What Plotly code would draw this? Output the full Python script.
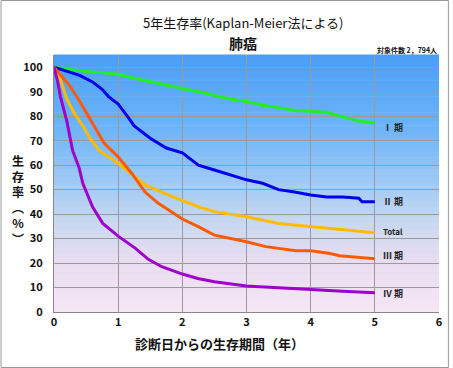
import plotly.graph_objects as go

# ---- data ----
years_I = [0, 0.25, 0.5, 0.75, 1.0, 1.25, 1.5, 1.75, 2.0, 2.25, 2.5, 2.75, 3.0, 3.25, 3.5, 3.75, 4.0, 4.25, 4.5, 4.75, 5.0]
surv_I = [100, 99, 98.3, 97.8, 97.1, 95.5, 94, 92.7, 91.3, 90, 88.5, 87, 86, 84.5, 83.5, 82.3, 82, 81.6, 79.7, 78, 77.3]

years_II = [0, 0.25, 0.4, 0.6, 0.75, 0.85, 1.0, 1.17, 1.25, 1.5, 1.75, 2.0, 2.25, 2.5, 2.75, 3.0, 3.25, 3.5, 3.75, 4.0, 4.25, 4.5, 4.75, 4.8, 5.0]
surv_II = [100, 98, 96.7, 94, 91, 88, 85, 79, 76, 71, 67, 65, 60, 58, 56, 54, 52.6, 50, 49, 47.8, 47, 47, 46.5, 45, 45]

years_T = [0, 0.1, 0.2, 0.32, 0.45, 0.55, 0.7, 1.0, 1.22, 1.43, 1.73, 2.0, 2.25, 2.5, 3.0, 3.5, 3.78, 4.0, 4.5, 5.0]
surv_T = [100, 95, 87, 81, 76, 71.5, 66, 60.8, 56, 51.8, 48.4, 45.5, 43, 41, 38.9, 36.2, 35.5, 35, 33.5, 32.4]

years_III = [0, 0.1, 0.24, 0.39, 0.6, 0.78, 1.0, 1.21, 1.42, 1.62, 2.0, 2.24, 2.5, 3.0, 3.3, 3.77, 4.0, 4.28, 4.45, 5.0]
surv_III = [100, 97, 92.6, 86.5, 77, 69, 63.4, 56.7, 49, 44.5, 38, 35, 31.4, 28.7, 26.7, 25, 25, 24, 23, 21.8]

years_IV = [0, 0.05, 0.1, 0.2, 0.29, 0.39, 0.45, 0.6, 0.76, 1.0, 1.27, 1.47, 1.68, 2.0, 2.24, 2.5, 3.0, 3.53, 3.77, 4.0, 4.5, 5.0]
surv_IV = [100, 95, 88, 78, 66, 59, 52.5, 43, 36.2, 31, 26, 21.5, 18.5, 15.5, 13.7, 12.4, 10.6, 9.7, 9.3, 9.2, 8.5, 7.9]

series_names = ["Ⅰ 期", "Ⅱ 期", "Total", "Ⅲ 期", "Ⅳ 期"]
series_x = [years_I, years_II, years_T, years_III, years_IV]
series_y = [surv_I, surv_II, surv_T, surv_III, surv_IV]
series_colors = ["#22ee22", "#0000ee", "#ffbb00", "#ff5a00", "#a000cc"]
label_y = [75.5, 45, 33, 23, 7.5]

x_ticks = [0, 1, 2, 3, 4, 5, 6]
y_ticks = [0, 10, 20, 30, 40, 50, 60, 70, 80, 90, 100]

y_title_chars = ["生", "存", "率", "︵", "%", "︶"]

FONT = "Noto Sans CJK JP"

fig = go.Figure()

# ---- gradient background for the plot area ----
stops = [(0.0, (245, 230, 245)), (0.2, (232, 220, 240)), (0.35, (200, 216, 240)),
         (0.5, (160, 202, 245)), (0.7, (112, 181, 248)), (1.0, (74, 158, 245))]


def col_at(f):
    for (f0, c0), (f1, c1) in zip(stops[:-1], stops[1:]):
        if f0 <= f <= f1:
            t = (f - f0) / (f1 - f0)
            return "rgb(%d,%d,%d)" % tuple(round(a + (b - a) * t) for a, b in zip(c0, c1))
    return "rgb(%d,%d,%d)" % stops[-1][1]


N = 80
shapes = []
for i in range(N):
    y0 = i / N
    y1 = (i + 1) / N
    shapes.append(dict(type="rect", xref="x domain", yref="y domain", x0=0, x1=1, y0=y0, y1=y1 + 0.002,
                       fillcolor=col_at((y0 + y1) / 2), line=dict(width=0), layer="below"))

for name, xs, ys, c, ly in zip(series_names, series_x, series_y, series_colors, label_y):
    fig.add_trace(go.Scatter(x=xs, y=ys, mode="lines", name=name, hoverinfo="skip",
                             line=dict(color=c, width=3), showlegend=False))
    fig.add_annotation(x=5.1, y=ly, text="<b>%s</b>" % name, showarrow=False, xanchor="left",
                       yanchor="middle", font=dict(family=FONT, size=8 if name == "Total" else 9, color="#222"))

# titles
fig.add_annotation(xref="paper", yref="paper", x=0.49, y=1.0, yshift=33, text="5年生存率(Kaplan-Meier法による)",
                   showarrow=False, xanchor="center", yanchor="middle", font=dict(family=FONT, size=13, color="#111"))
fig.add_annotation(xref="paper", yref="paper", x=0.49, y=1.0, yshift=12, text="<b>肺癌</b>",
                   showarrow=False, xanchor="center", yanchor="middle", font=dict(family=FONT, size=14, color="#111"))
fig.add_annotation(xref="paper", yref="paper", x=1.0, y=1.0, yshift=5, text="<b>対象件数 2，794人</b>",
                   showarrow=False, xanchor="right", yanchor="middle", font=dict(family=FONT, size=7, color="#111"))
# x axis title
fig.add_annotation(xref="paper", yref="paper", x=0.43, y=0, yshift=-31, text="<b>診断日からの生存期間（年）</b>",
                   showarrow=False, xanchor="center", yanchor="middle", font=dict(family=FONT, size=13, color="#111"))
# y axis title (vertical stacked characters)
fig.add_annotation(xref="paper", yref="paper", x=0, xshift=-36, y=1.0, yshift=-144,
                   text="<b>" + "<br>".join(y_title_chars) + "</b>", showarrow=False,
                   xanchor="center", yanchor="middle", font=dict(family=FONT, size=12, color="#111"))

fig.update_layout(
    width=453, height=368,
    margin=dict(l=54, r=10, t=55, b=56),
    paper_bgcolor="white",
    plot_bgcolor="rgba(0,0,0,0)",
    shapes=shapes,
    hovermode=False,
    xaxis=dict(range=[0, 6], tickvals=x_ticks, ticktext=["<b>%d</b>" % v for v in x_ticks],
               showgrid=True, gridcolor="#9a9a9a", gridwidth=1, zeroline=False,
               showline=True, linecolor="#888", linewidth=1, ticks="",
               tickfont=dict(family=FONT, size=11, color="#111")),
    yaxis=dict(range=[0, 105], tickvals=y_ticks, ticktext=["<b>%d</b>" % v for v in y_ticks],
               showgrid=True, gridcolor="#9a9a9a", gridwidth=1, zeroline=False,
               showline=True, linecolor="#888", linewidth=1, ticks="", ticklabelstandoff=8,
               tickfont=dict(family=FONT, size=11, color="#111")),
)

# outer border
fig.add_shape(type="rect", xref="paper", yref="paper", x0=-53.5/389, x1=1 + 9.5/389, y0=-55.5/257, y1=1 + 54.5/257,
              line=dict(color="#999", width=1), fillcolor="rgba(0,0,0,0)", layer="above")

fig.write_html("out.html", config={"displayModeBar": False, "staticPlot": True})

# remove the default page margin so the figure sits at the window's top-left corner
with open("out.html", "r", encoding="utf-8") as f:
    html = f.read()
html = html.replace("<head>", "<head><style>html,body{margin:0;padding:0;overflow:hidden;}</style>", 1)
with open("out.html", "w", encoding="utf-8") as f:
    f.write(html)
